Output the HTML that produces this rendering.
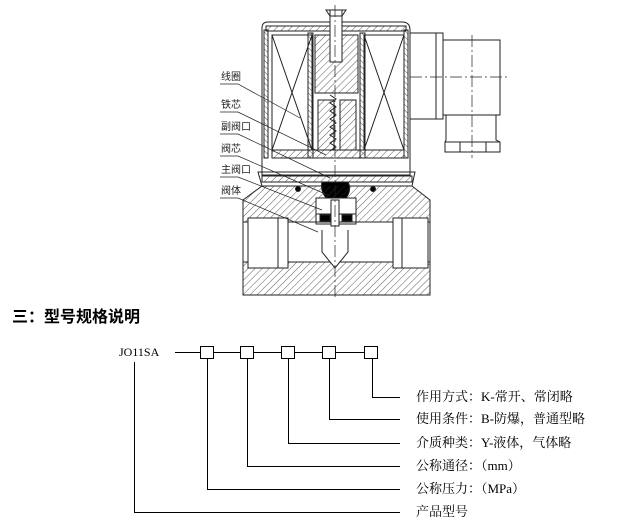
<!DOCTYPE html>
<html><head><meta charset="utf-8"><style>
html,body{margin:0;padding:0;background:#fff;}
body{width:626px;height:523px;position:relative;overflow:hidden;font-family:"Liberation Serif","Noto Serif CJK SC",serif;}
.t{position:absolute;font-size:13px;color:#000;white-space:nowrap;line-height:14px;}
.lb{position:absolute;font-size:10px;font-family:"Liberation Sans","Noto Sans CJK SC",sans-serif;color:#222;line-height:10px;}
</style></head><body>
<svg width="626" height="523" style="position:absolute;left:0;top:0" xmlns="http://www.w3.org/2000/svg">
<defs>
<pattern id="h" width="5" height="5" patternUnits="userSpaceOnUse" patternTransform="rotate(45)"><line x1="0" y1="0" x2="0" y2="5" stroke="#333" stroke-width="0.8"/></pattern>
<pattern id="h2" width="4" height="4" patternUnits="userSpaceOnUse" patternTransform="rotate(-45)"><line x1="0" y1="0" x2="0" y2="4" stroke="#333" stroke-width="0.8"/></pattern>
</defs>
<g stroke="#222" stroke-width="1" fill="none">
<!-- housing -->
<path d="M262 28 Q262 22 268 22 L402 22 Q410 22 410 30 L410 175 L262 175 Z"/>
<rect x="266" y="26" width="140" height="5" fill="url(#h)"/>
<rect x="264" y="30" width="4" height="128" fill="url(#h2)"/>
<rect x="404" y="30" width="4" height="128" fill="url(#h2)"/>
<!-- coils -->
<rect x="272" y="35" width="40" height="115"/>
<path d="M272 35 L312 150 M312 35 L272 150"/>
<rect x="364" y="35" width="40" height="115"/>
<path d="M364 35 L404 150 M404 35 L364 150"/>
<rect x="308" y="33" width="5" height="125" fill="url(#h2)"/>
<rect x="360" y="33" width="5" height="125" fill="url(#h2)"/>
<rect x="272" y="150" width="132" height="8" fill="url(#h)"/>
<!-- core -->
<rect x="315" y="35" width="43" height="58" fill="url(#h)"/>
<rect x="330" y="10" width="12" height="52" fill="#fff"/>
<path d="M326 10 L346 10 L342 16 L330 16 Z"/>
<rect x="318" y="100" width="16" height="50" fill="url(#h)"/>
<rect x="340" y="100" width="16" height="50" fill="url(#h)"/>
<path d="M330 95 l6 4 l-6 4 l6 4 l-6 4 l6 4 l-6 4 l6 4 l-6 4 l6 4 l-6 4 l6 4 l-6 4 l6 4 l-6 4" />
<!-- flange -->
<path d="M258 172 L415 172 L412 186 L262 186 Z"/>
<rect x="262" y="176" width="150" height="6" fill="url(#h)"/>
<circle cx="298" cy="189" r="2.5" fill="#000"/>
<circle cx="373" cy="189" r="2.5" fill="#000"/>
<path d="M322 182 Q320 190 326 198 L346 198 Q352 190 348 182 Z" fill="#000"/>
<!-- connector -->
<rect x="410" y="33" width="33" height="86"/>
<line x1="436" y1="33" x2="436" y2="119"/>
<rect x="443" y="40" width="57" height="75"/>
<path d="M446 115 L446 140 L445 142 L445 152 L500 152 L500 142 L496 140 L496 115"/>
<path d="M445 142 L500 142 M460 142 L460 152 M486 142 L486 152"/>
<!-- body -->
<path d="M262 186 L243 200 L243 228 L430 228 L430 200 L412 186" fill="url(#h)"/>
<rect x="243" y="222" width="187" height="73" fill="#fff"/>
<rect x="243" y="262" width="187" height="33" fill="url(#h)"/>
<rect x="248" y="218" width="40" height="50" fill="#fff"/>
<line x1="278" y1="218" x2="278" y2="268"/>
<rect x="393" y="218" width="35" height="50" fill="#fff"/>
<line x1="402" y1="218" x2="402" y2="268"/>
<path d="M322 230 L322 252 L335 268 L348 252 L348 230" fill="#fff"/>
<rect x="316" y="198" width="40" height="26" fill="#fff"/>
<rect x="316" y="214" width="40" height="8"/>
<rect x="320" y="215" width="10" height="6" fill="#000"/>
<rect x="342" y="215" width="10" height="6" fill="#000"/>
<rect x="331" y="200" width="8" height="26" fill="#fff"/>
<line x1="335" y1="5" x2="335" y2="298" stroke-dasharray="12,3,2,3" stroke-width="0.7"/>
<line x1="410" y1="77" x2="507" y2="77" stroke-dasharray="12,3,2,3" stroke-width="0.7"/>
<line x1="472" y1="35" x2="472" y2="158" stroke-dasharray="12,3,2,3" stroke-width="0.7"/>
<!-- leaders -->
<g stroke-width="0.7">
<path d="M220 84 L238 84 L300 118"/>
<path d="M220 112 L238 112 L326 155"/>
<path d="M220 134 L238 134 L330 178"/>
<path d="M220 156 L238 156 L330 196"/>
<path d="M220 177 L238 177 L322 210"/>
<path d="M220 198 L238 198 L318 232"/>
</g>
</g>
<!-- code diagram -->
<g stroke="#000" stroke-width="1" fill="none">
<line x1="175" y1="352.5" x2="364" y2="352.5"/>
<rect x="200.5" y="346.5" width="13" height="12" fill="#fff"/>
<rect x="240.5" y="346.5" width="13" height="12" fill="#fff"/>
<rect x="281.5" y="346.5" width="13" height="12" fill="#fff"/>
<rect x="322.5" y="346.5" width="13" height="12" fill="#fff"/>
<rect x="364.5" y="346.5" width="13" height="12" fill="#fff"/>
<path d="M372.5 359 V397.5 H400"/>
<path d="M329.5 359 V419.5 H400"/>
<path d="M288.5 359 V443.5 H400"/>
<path d="M247.5 359 V466.5 H400"/>
<path d="M207.5 359 V489.5 H400"/>
<path d="M134.5 362 V512.5 H400"/>
</g>
</svg>
<div class="lb" style="left:221px;top:73px">线圈</div>
<div class="lb" style="left:221px;top:101px">铁芯</div>
<div class="lb" style="left:221px;top:123px">副阀口</div>
<div class="lb" style="left:221px;top:145px">阀芯</div>
<div class="lb" style="left:221px;top:166px">主阀口</div>
<div class="lb" style="left:221px;top:187px">阀体</div>
<div style="position:absolute;left:12px;top:309px;font-size:16px;font-weight:bold;font-family:'Liberation Sans','Noto Sans CJK SC',sans-serif;line-height:18px;">三：型号规格说明</div>
<div class="t" style="left:119px;top:345px;font-size:12px">JO11SA</div>
<div class="t" style="left:416px;top:390px">作用方式：K-常开、常闭略</div>
<div class="t" style="left:416px;top:412px">使用条件：B-防爆，普通型略</div>
<div class="t" style="left:416px;top:436px">介质种类：Y-液体，气体略</div>
<div class="t" style="left:416px;top:459px">公称通径：（mm）</div>
<div class="t" style="left:416px;top:482px">公称压力：（MPa）</div>
<div class="t" style="left:416px;top:505px">产品型号</div>
</body></html>
